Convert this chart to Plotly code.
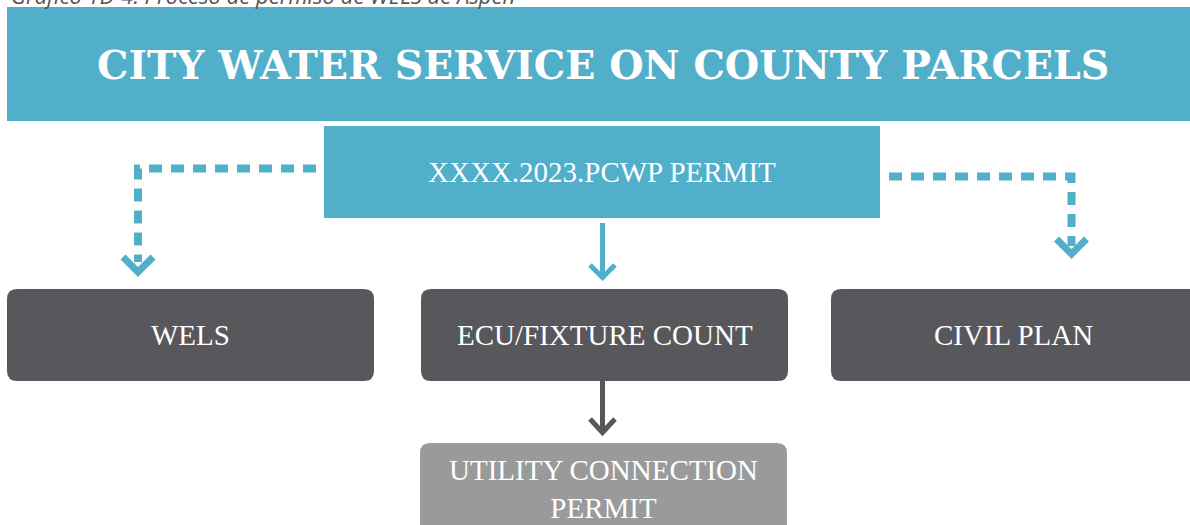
import plotly.graph_objects as go

# ---- content ----
caption_text = "Gráfico 1D-4. Proceso de permiso de WELS de Aspen"
title_text = "CITY WATER SERVICE ON COUNTY PARCELS"
permit_label = "XXXX.2023.PCWP PERMIT"
step_labels = ["WELS", "ECU/FIXTURE COUNT", "CIVIL PLAN"]
final_label = "UTILITY CONNECTION<br>PERMIT"

# ---- layout geometry (pixels, y downward) ----
W, H = 1190, 525
BLUE = "#52AFC9"
DARK = "#58585C"
GREY = "#9B9A9B"

header_box = (7, 7, 1200, 121)
permit_box = (324, 126, 880, 218)
step_boxes = [(7, 289, 374, 381), (421, 289, 788, 381), (831, 289, 1215, 381)]
step_centers = [190.5, 604.5, 1013]
final_box = (420, 443, 787, 560)

title_font = dict(family="DejaVu Serif", size=39.5, color="white", weight="bold")
body_font = dict(family="Liberation Serif", size=29, color="white")


def rounded(x0, y0, x1, y1, r):
    return (f"M{x0+r},{y0} L{x1-r},{y0} Q{x1},{y0} {x1},{y0+r} "
            f"L{x1},{y1-r} Q{x1},{y1} {x1-r},{y1} L{x0+r},{y1} "
            f"Q{x0},{y1} {x0},{y1-r} L{x0},{y0+r} Q{x0},{y0} {x0+r},{y0} Z")


shapes = []
annotations = []

# header
x0, y0, x1, y1 = header_box
shapes.append(dict(type="rect", x0=x0, y0=y0, x1=x1, y1=y1, fillcolor=BLUE, line_width=0, layer="below"))
annotations.append(dict(x=603, y=(y0 + y1) / 2 + 1, text=title_text, showarrow=False,
                        font=title_font, xanchor="center", yanchor="middle"))

# caption (cut off at top, drawn under the header band)
annotations.append(dict(x=9, y=12, text=f"<i>{caption_text}</i>", showarrow=False,
                        font=dict(family="Open Sans", size=22, color="#555555"),
                        xanchor="left", yanchor="bottom"))

# permit box
x0, y0, x1, y1 = permit_box
shapes.append(dict(type="rect", x0=x0, y0=y0, x1=x1, y1=y1, fillcolor=BLUE, line_width=0, layer="below"))
annotations.append(dict(x=(x0 + x1) / 2, y=(y0 + y1) / 2, text=permit_label, showarrow=False,
                        font=body_font, xanchor="center", yanchor="middle"))

# step boxes
for (bx0, by0, bx1, by1), cx, lab in zip(step_boxes, step_centers, step_labels):
    shapes.append(dict(type="path", path=rounded(bx0, by0, bx1, by1, 10), fillcolor=DARK,
                       line_width=0, layer="below"))
    annotations.append(dict(x=cx, y=(by0 + by1) / 2, text=lab, showarrow=False,
                            font=body_font, xanchor="center", yanchor="middle"))

# final box
x0, y0, x1, y1 = final_box
shapes.append(dict(type="path", path=rounded(x0, y0, x1, y1, 10), fillcolor=GREY,
                   line_width=0, layer="below"))
annotations.append(dict(x=(x0 + x1) / 2, y=489, text=final_label, showarrow=False,
                        font=body_font, xanchor="center", yanchor="middle"))

# dashed connectors
dash = "13px,9px"
shapes.append(dict(type="path", path="M316,168.5 L138,168.5 L138,262", line=dict(color=BLUE, width=8, dash=dash)))
shapes.append(dict(type="path", path="M889,176.5 L1071.5,176.5 L1071.5,246", line=dict(color=BLUE, width=8, dash=dash)))
# chevrons
shapes.append(dict(type="path", path="M123,257 L138,272 L153,257", line=dict(color=BLUE, width=7)))
shapes.append(dict(type="path", path="M1056.5,239 L1071.5,254 L1086.5,239", line=dict(color=BLUE, width=7)))

# solid center arrows
shapes.append(dict(type="line", x0=602.5, y0=223, x1=602.5, y1=277, line=dict(color=BLUE, width=5)))
shapes.append(dict(type="path", path="M590,265 L602.5,277.5 L615,265", line=dict(color=BLUE, width=5)))
shapes.append(dict(type="line", x0=602.5, y0=381, x1=602.5, y1=433, line=dict(color=DARK, width=5)))
shapes.append(dict(type="path", path="M590,419 L602.5,432.5 L615,419", line=dict(color=DARK, width=5)))

fig = go.Figure()
fig.update_layout(
    width=W, height=H,
    margin=dict(l=0, r=0, t=0, b=0),
    paper_bgcolor="white", plot_bgcolor="white",
    xaxis=dict(range=[0, W], visible=False, fixedrange=True),
    yaxis=dict(range=[H, 0], visible=False, fixedrange=True),
    shapes=shapes, annotations=annotations,
    showlegend=False,
)
fig.write_html("out.html", config={"displayModeBar": False},
               post_script="document.body.style.margin='0';document.body.style.overflow='hidden';")
